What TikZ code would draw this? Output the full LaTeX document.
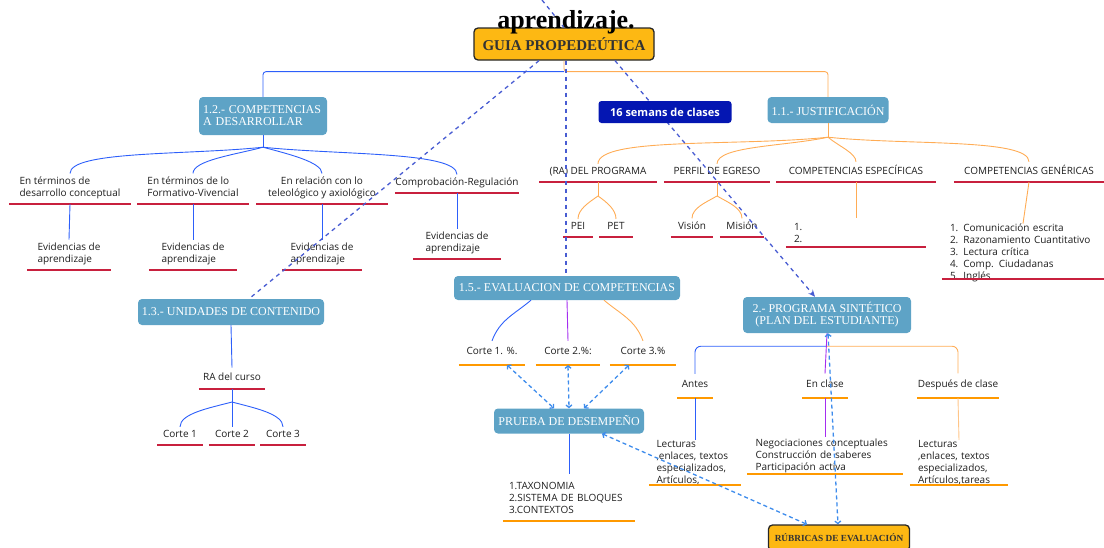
\documentclass[tikz,border=0pt]{standalone}
\usepackage{fontspec}
\setmainfont{Liberation Serif}
\setsansfont{Open Sans}
\usetikzlibrary{arrows.meta}
\definecolor{mmbox}{RGB}{94,163,198}
\definecolor{mmgold}{RGB}{253,184,19}
\definecolor{mmnavy}{RGB}{4,22,178}
\definecolor{mmred}{RGB}{200,32,62}
\definecolor{mmorange}{RGB}{255,153,0}
\definecolor{mmblue}{RGB}{45,95,250}
\definecolor{mmpeach}{RGB}{255,172,85}
\definecolor{mmpurple}{RGB}{165,45,240}
\definecolor{mmdash}{RGB}{72,92,210}
\definecolor{mmsky}{RGB}{62,140,236}
\definecolor{mmink}{RGB}{30,30,30}

\begin{document}
\begin{tikzpicture}[
    x=1pt, y=-1pt,
    font=\sffamily,
    % Box styles: blue topic boxes, gold boxes, underlined leaves.
    topic/.style={
        fill=mmbox,
        rounded corners=4pt,
        text=white,
        font=\rmfamily\fontsize{12}{12}\selectfont,
        inner sep=0pt,
        align=center
    },
    goldbox/.style={
        draw=black!85,
        line width=1.3pt,
        fill=mmgold,
        rounded corners=4pt,
        inner sep=0pt,
        text=black!80,
        font=\rmfamily\bfseries
    },
    leaf/.style={
        anchor=south,
        inner xsep=0pt,
        inner ysep=3.5pt,
        text depth=3.5pt,
        align=center,
        text=mmink,
        font=\sffamily\fontsize{10}{12}\selectfont
    },
    tight/.style={text depth={}, inner ysep=#1},
    branch/.style={in=90, in looseness=#1},
    uline/.style={line width=1.7pt, draw=mmred},
    oline/.style={line width=1.7pt, draw=mmorange},
    bluetree/.style={line width=0.9pt, draw=mmblue},
    orangetree/.style={line width=0.9pt, draw=mmpeach},
    purpletree/.style={line width=0.9pt, draw=mmpurple},
    link/.style={line width=1.3pt, draw=mmdash, dash pattern=on 4pt off 4pt},
    backlink/.style={line width=1.3pt, draw=mmsky, dash pattern=on 4pt off 3pt,
        {Straight Barb[length=2.5pt,width=6pt]}-{Straight Barb[length=2.5pt,width=6pt]}}
]
    \useasboundingbox (0,0) rectangle (1104,547);

    % main boxes
    \node[goldbox, minimum width=180pt, minimum height=32pt,
        font=\rmfamily\bfseries\fontsize{15}{16}\selectfont] (guia) at (564,44) {GUIA PROPEDEÚTICA};
    \node[topic, minimum width=128pt, minimum height=38pt, text width=120pt, align=left] (comp) at (263,116)
        {1.2.- COMPETENCIAS\\A DESARROLLAR};
    \node[topic, minimum width=121pt, minimum height=26pt] (just) at (828,110) {1.1.- JUSTIFICACIÓN};
    \node[topic, minimum width=186pt, minimum height=26pt] (unid) at (231,312) {1.3.- UNIDADES DE CONTENIDO};
    \node[topic, minimum width=226pt, minimum height=24pt] (eval) at (567,288) {1.5.- EVALUACION DE COMPETENCIAS};
    \node[topic, minimum width=150pt, minimum height=25pt] (prueba) at (569,421) {PRUEBA DE DESEMPEÑO};
    \node[topic, minimum width=168pt, minimum height=36pt] (programa) at (827,315)
        {2.- PROGRAMA SINTÉTICO\\(PLAN DEL ESTUDIANTE)};
    \node[goldbox, minimum width=141pt, minimum height=26pt,
        font=\rmfamily\bfseries\fontsize{9.3}{10}\selectfont] (rubricas) at (839,538) {RÚBRICAS DE EVALUACIÓN};

    % 1.2 leaves
    \node[leaf, minimum width=121pt, align=left] (cpt) at (70,204) {En términos de\\desarrollo conceptual};
    \node[leaf, minimum width=111pt, align=left] (form) at (193,204) {En términos de lo\\Formativo-Vivencial};
    \node[leaf, minimum width=131pt] (teleo) at (322,204) {En relación con lo\\teleológico y axiológico};
    \node[leaf, minimum width=124pt] (regul) at (457,193) {Comprobación-Regulación};
    \node[leaf, minimum width=83pt, align=left] (evid1) at (69,270) {Evidencias de\\aprendizaje};
    \node[leaf, minimum width=88pt, align=left] (evid2) at (193,270) {Evidencias de\\aprendizaje};
    \node[leaf, minimum width=79pt, align=left] (evid3) at (322,270) {Evidencias de\\aprendizaje};
    \node[leaf, minimum width=87pt, align=left] (evid4) at (457,259) {Evidencias de\\aprendizaje};

    % 1.1 leaves
    \node[leaf, minimum width=117pt] (ra) at (598,182) {(RA) DEL PROGRAMA};
    \node[leaf, minimum width=106pt] (perfil) at (717,182) {PERFIL DE EGRESO};
    \node[leaf, minimum width=159pt] (especif) at (856,182) {COMPETENCIAS ESPECÍFICAS};
    \node[leaf, minimum width=150pt] (generic) at (1029,182) {COMPETENCIAS GENÉRICAS};
    \node[leaf, minimum width=30pt] (pei) at (578,237) {PEI};
    \node[leaf, minimum width=33pt] (pet) at (616,237) {PET};
    \node[leaf, minimum width=42pt] (vision) at (692,237) {Visión};
    \node[leaf, minimum width=44pt] (mision) at (742,237) {Misión};
    \node[leaf, tight=4.5pt, text width=124pt, inner xsep=8pt, align=left] (esplist) at (856,247) {1.\\2.};
    \node[leaf, tight=0pt, text width=146pt, inner xsep=8pt, align=left] (genlist) at (1023,282)
        {1. Comunicación escrita\\2. Razonamiento Cuantitativo\\3. Lectura crítica\\4. Comp. Ciudadanas\\5. Inglés};

    % 1.3 leaves
    \node[leaf, minimum width=66pt, inner ysep=5pt] (racurso) at (232,389) {RA del curso};
    \node[leaf, minimum width=45pt] (corte1) at (180,445) {Corte 1};
    \node[leaf, minimum width=46pt] (corte2) at (232,445) {Corte 2};
    \node[leaf, minimum width=45pt] (corte3) at (283,445) {Corte 3};

    % 1.5 leaves
    \node[leaf, minimum width=66pt, inner ysep=6.5pt] (eval1) at (492,365) {Corte 1. \%.};
    \node[leaf, minimum width=64pt, inner ysep=6.5pt] (eval2) at (568,365) {Corte 2.\%:};
    \node[leaf, minimum width=66pt, inner ysep=6.5pt] (eval3) at (643,365) {Corte 3.\%};
    \node[leaf, tight=7.5pt, text width=120pt, inner xsep=6pt, align=left] (taxo) at (569,521)
        {1.TAXONOMIA\\2.SISTEMA DE BLOQUES\\3.CONTEXTOS};

    % 2. leaves
    \node[leaf, minimum width=35pt, inner ysep=6.5pt] (antes) at (695,398) {Antes};
    \node[leaf, minimum width=45pt, inner ysep=6.5pt] (enclase) at (825,398) {En clase};
    \node[leaf, minimum width=81pt, inner ysep=6.5pt] (despues) at (958,398) {Después de clase};
    \node[leaf, tight=0pt, text width=77pt, inner xsep=7pt, align=left] (antestxt) at (695,485)
        {Lecturas\\,enlaces, textos\\especializados,\\Artículos,};
    \node[leaf, tight=1.3pt, text width=139pt, inner xsep=8pt, align=left] (enclasetxt) at (825,474)
        {Negociaciones conceptuales\\Construcción de saberes\\Participación activa};
    \node[leaf, tight=0pt, text width=82pt, inner xsep=8pt, align=left] (despuestxt) at (959,485)
        {Lecturas\\,enlaces, textos\\especializados,\\Artículos,tareas};

    % underlines
    \foreach \n in {cpt,form,teleo,regul,evid1,evid2,evid3,evid4,ra,perfil,especif,generic,
                    pei,pet,vision,mision,esplist,racurso,corte1,corte2,corte3}
        \draw[uline] (\n.south west) -- (\n.south east);
    \draw[uline] ([yshift=3pt]genlist.south west) -- ([yshift=3pt]genlist.south east);
    \foreach \n in {eval1,eval2,eval3,taxo,antes,enclase,despues,antestxt,enclasetxt,despuestxt}
        \draw[oline] (\n.south west) -- (\n.south east);

    % top branches
    \draw[orangetree, rounded corners=3pt] (guia.south) -- ++(0,11) -| (just.north);
    \draw[bluetree, rounded corners=3pt] ([yshift=-11pt]guia.south) -| (comp.north);

    % 1.2 tree
    \draw[bluetree] (comp.south) -- ++(0,12) coordinate (compfork);
    \draw[bluetree] (compfork) to[out=186,branch=0.3] (cpt.north);
    \draw[bluetree] (compfork) to[out=195,branch=0.45] (form.north);
    \draw[bluetree] (compfork) to[out=-15,branch=0.45] (teleo.north);
    \draw[bluetree] (compfork) to[out=-6,branch=0.3] (regul.north);
    \foreach \a/\b in {cpt/evid1,form/evid2,teleo/evid3,regul/evid4}
        \draw[bluetree] (\a.south) -- (\b.north);

    % 1.1 tree
    \draw[orangetree] (just.south) -- ++(0,14) coordinate (justfork);
    \draw[orangetree] (justfork) to[out=186,branch=0.3] (ra.north);
    \draw[orangetree] (justfork) to[out=192,branch=0.4] (perfil.north);
    \draw[orangetree] (justfork) to[out=-40,branch=0.6] (especif.north);
    \draw[orangetree] (justfork) to[out=-6,branch=0.3] (generic.north);
    \draw[orangetree] (ra.south) -- ++(0,14) coordinate (rafork);
    \draw[orangetree] (rafork) to[out=-145,branch=0.8] (pei.north);
    \draw[orangetree] (rafork) to[out=-35,branch=0.8] (pet.north);
    \draw[orangetree] (perfil.south) -- ++(0,14) coordinate (perfilfork);
    \draw[orangetree] (perfilfork) to[out=-150,branch=0.8] (vision.north);
    \draw[orangetree] (perfilfork) to[out=-30,branch=0.8] (mision.north);
    \draw[orangetree] (especif.south) -- (esplist.north);
    \draw[orangetree] (generic.south) -- (genlist.north);

    % 1.3 tree
    \draw[bluetree] (unid.south) -- (racurso.north);
    \draw[bluetree] (racurso.south) -- ++(0,13) coordinate (racfork);
    \draw[bluetree] (racfork) to[out=-165,branch=0.6] (corte1.north);
    \draw[bluetree] (racfork) -- (corte2.north);
    \draw[bluetree] (racfork) to[out=-15,branch=0.6] (corte3.north);

    % 1.5 tree
    \draw[bluetree] ([xshift=-36pt]eval.south) to[out=220,in=70] (eval1.north);
    \draw[purpletree] (eval.south) -- (eval2.north);
    \draw[orangetree] ([xshift=37pt]eval.south) to[out=-40,in=110] (eval3.north);
    \draw[bluetree] (prueba.south) -- (taxo.north);

    % 2. tree
    \draw[bluetree, rounded corners=6pt] ([yshift=-13pt]programa.south) -| (antes.north);
    \draw[orangetree, rounded corners=6pt] ([yshift=-13pt]programa.south) -| (despues.north);
    \draw[purpletree] (programa.south) -- (enclase.north);
    \draw[bluetree] (antes.south) -- (antestxt.north);
    \draw[purpletree] (enclase.south) -- (enclasetxt.north);
    \draw[orangetree, draw=mmpeach!70] (despues.south) -- (despuestxt.north);

    % dashed links
    \coordinate (offtop) at (542,0);
    \draw[link] (offtop) -- (guia.north);
    \draw[link] ([xshift=-25pt]guia.south) -- ([xshift=18pt]unid.north);
    \draw[link] ([xshift=2pt]guia.south) -- ([xshift=-1pt]eval.north);
    \draw[link, -{Stealth[length=7pt,width=6pt]}] ([xshift=51pt]guia.south) -- ([xshift=-12pt]programa.north);
    \draw[backlink] ([xshift=15pt]eval1.south) -- ([xshift=-15pt]prueba.north);
    \draw[backlink] (eval2.south) -- (prueba.north);
    \draw[backlink] ([xshift=-14pt]eval3.south) -- ([xshift=15pt]prueba.north);
    \draw[backlink] ([xshift=33pt]prueba.south) -- ([xshift=-32pt]rubricas.north);
    \draw[backlink] ([xshift=1pt]programa.south) -- ([xshift=-1pt]rubricas.north);

    % boxes drawn over the links
    \node[fill=mmnavy, rounded corners=3pt, text=white, inner sep=0pt,
        minimum width=133pt, minimum height=22pt,
        font=\sffamily\bfseries\fontsize{11}{12}\selectfont] (semanas) at (665,112) {16 semans de clases};
    \node[font=\rmfamily\bfseries\fontsize{26}{26}\selectfont, inner sep=0pt] (aprend) at (566,22) {aprendizaje.};
\end{tikzpicture}
\end{document}
